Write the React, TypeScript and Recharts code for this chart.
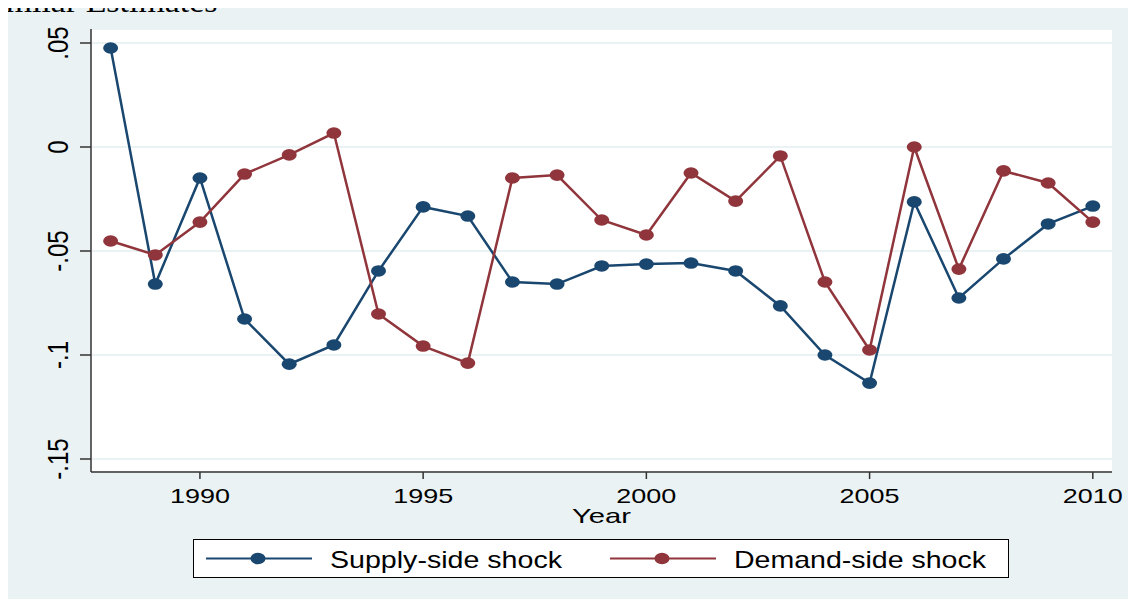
import React from 'react';
import { LineChart, Line, XAxis, YAxis, CartesianGrid, Legend } from 'recharts';

const years = [1988, 1989, 1990, 1991, 1992, 1993, 1994, 1995, 1996, 1997, 1998, 1999, 2000, 2001, 2002, 2003, 2004, 2005, 2006, 2007, 2008, 2009, 2010];
const supplyShock = [0.0476, -0.0659, -0.0149, -0.0827, -0.1044, -0.0952, -0.0596, -0.0288, -0.0332, -0.0649, -0.0659, -0.0572, -0.0563, -0.0558, -0.0596, -0.0764, -0.1, -0.1135, -0.0264, -0.0726, -0.0538, -0.037, -0.0284];
const demandShock = [-0.0452, -0.0519, -0.0361, -0.013, -0.0038, 0.0067, -0.0803, -0.0957, -0.1039, -0.0149, -0.0135, -0.0351, -0.0423, -0.0125, -0.026, -0.0043, -0.0649, -0.0976, 0.0, -0.0587, -0.0115, -0.0173, -0.0361];

const xTicks = [1990, 1995, 2000, 2005, 2010];
const yTicks = [-0.15, -0.1, -0.05, 0, 0.05];
const yTickLabels = ['-.15', '-.1', '-.05', '0', '.05'];

const seriesNames = ['Supply-side shock', 'Demand-side shock'];
const titleText = 'Similar Estimates';

const BLUE = '#1a476f';
const RED = '#90353b';
const BG = '#eaf2f3';
const FONT = '"Liberation Sans", Arial, sans-serif';

const data = years.map((year, i) => ({
  year,
  supply: supplyShock[i],
  demand: demandShock[i],
}));

const makeDot = (color: string) => (props: any) => {
  const { cx, cy, index } = props;
  if (cx == null || cy == null) return null;
  return <ellipse key={`d-${index}`} cx={cx} cy={cy} rx={7.5} ry={5.8} fill={color} />;
};

const XTick = (props: any) => {
  const { x, y, payload } = props;
  return (
    <text x={x} y={y + 24} textAnchor="middle" fontFamily={FONT} fontSize={21} fill="#000"
      textLength={60} lengthAdjust="spacingAndGlyphs">
      {String(payload.value)}
    </text>
  );
};

const YTick = (props: any) => {
  const { y, payload } = props;
  const idx = yTicks.findIndex((t) => Math.abs(t - payload.value) < 1e-9);
  const label = idx >= 0 ? yTickLabels[idx] : String(payload.value);
  return (
    <g transform={`translate(60, ${y}) scale(1.25, 1) rotate(-90)`}>
      <text x={0} y={0} textAnchor="middle" fontFamily={FONT} fontSize={24} fill="#000">
        {label}
      </text>
    </g>
  );
};

const YearLabel = (props: any) => {
  const { viewBox } = props;
  const cx = viewBox.x + viewBox.width / 2;
  return (
    <text x={cx} y={viewBox.y + 51} textAnchor="middle" fontFamily={FONT} fontSize={21} fill="#000"
      textLength={59} lengthAdjust="spacingAndGlyphs">
      Year
    </text>
  );
};

const LegendBox = () => (
  <svg width={816} height={39} style={{ display: 'block' }}>
    <rect x={0.5} y={0.5} width={815} height={38} fill="#fff" stroke="#000" strokeWidth={1} />
    <line x1={13} x2={119} y1={19.5} y2={19.5} stroke={BLUE} strokeWidth={2} />
    <ellipse cx={65} cy={19.5} rx={7.5} ry={5.8} fill={BLUE} />
    <text x={137} y={28.5} fontFamily={FONT} fontSize={24} fill="#000" textLength={232} lengthAdjust="spacingAndGlyphs">
      {seriesNames[0]}
    </text>
    <line x1={417} x2={523} y1={19.5} y2={19.5} stroke={RED} strokeWidth={2} />
    <ellipse cx={469} cy={19.5} rx={7.5} ry={5.8} fill={RED} />
    <text x={541} y={28.5} fontFamily={FONT} fontSize={24} fill="#000" textLength={252} lengthAdjust="spacingAndGlyphs">
      {seriesNames[1]}
    </text>
  </svg>
);

export default function App() {
  return (
    <div style={{ position: 'relative', width: 1128, height: 591, background: BG }}>
      <LineChart width={1128} height={591} data={data} margin={{ top: 21, right: 24, left: 0, bottom: 67 }}>
        <CartesianGrid vertical={false} fill="#fff" stroke={BG} strokeWidth={2} />
        <XAxis
          dataKey="year"
          type="number"
          domain={[1987.56, 2010.43]}
          ticks={xTicks}
          height={60}
          tickSize={7}
          tickMargin={0}
          tick={(p: any) => <XTick {...p} />}
          axisLine={{ stroke: '#333', strokeWidth: 1.5 }}
          tickLine={{ stroke: '#333', strokeWidth: 1.5 }}
          label={<YearLabel />}
        />
        <YAxis
          type="number"
          domain={[-0.15625, 0.05673]}
          ticks={yTicks}
          width={83}
          tickSize={11}
          tickMargin={0}
          tick={(p: any) => <YTick {...p} />}
          axisLine={{ stroke: '#333', strokeWidth: 1.5 }}
          tickLine={{ stroke: '#333', strokeWidth: 1.5 }}
          allowDataOverflow
        />
        <Legend
          layout="horizontal"
          verticalAlign="middle"
          align="center"
          wrapperStyle={{ left: 185, top: 531, width: 816, height: 39 }}
          content={() => <LegendBox />}
        />
        <Line type="linear" dataKey="supply" name={seriesNames[0]} stroke={BLUE} strokeWidth={2.5}
          dot={makeDot(BLUE)} activeDot={false} isAnimationActive={false} />
        <Line type="linear" dataKey="demand" name={seriesNames[1]} stroke={RED} strokeWidth={2.5}
          dot={makeDot(RED)} activeDot={false} isAnimationActive={false} />
      </LineChart>
      <div
        style={{
          position: 'absolute',
          right: 1128 - 209,
          top: -21,
          height: 30,
          lineHeight: '30px',
          fontSize: 30,
          fontFamily: '"Liberation Serif", "DejaVu Serif", serif',
          whiteSpace: 'nowrap',
          color: '#000',
          transform: 'scaleX(1.13)',
          transformOrigin: 'right center',
          zIndex: 2,
        }}
      >
        {titleText}
      </div>
    </div>
  );
}
